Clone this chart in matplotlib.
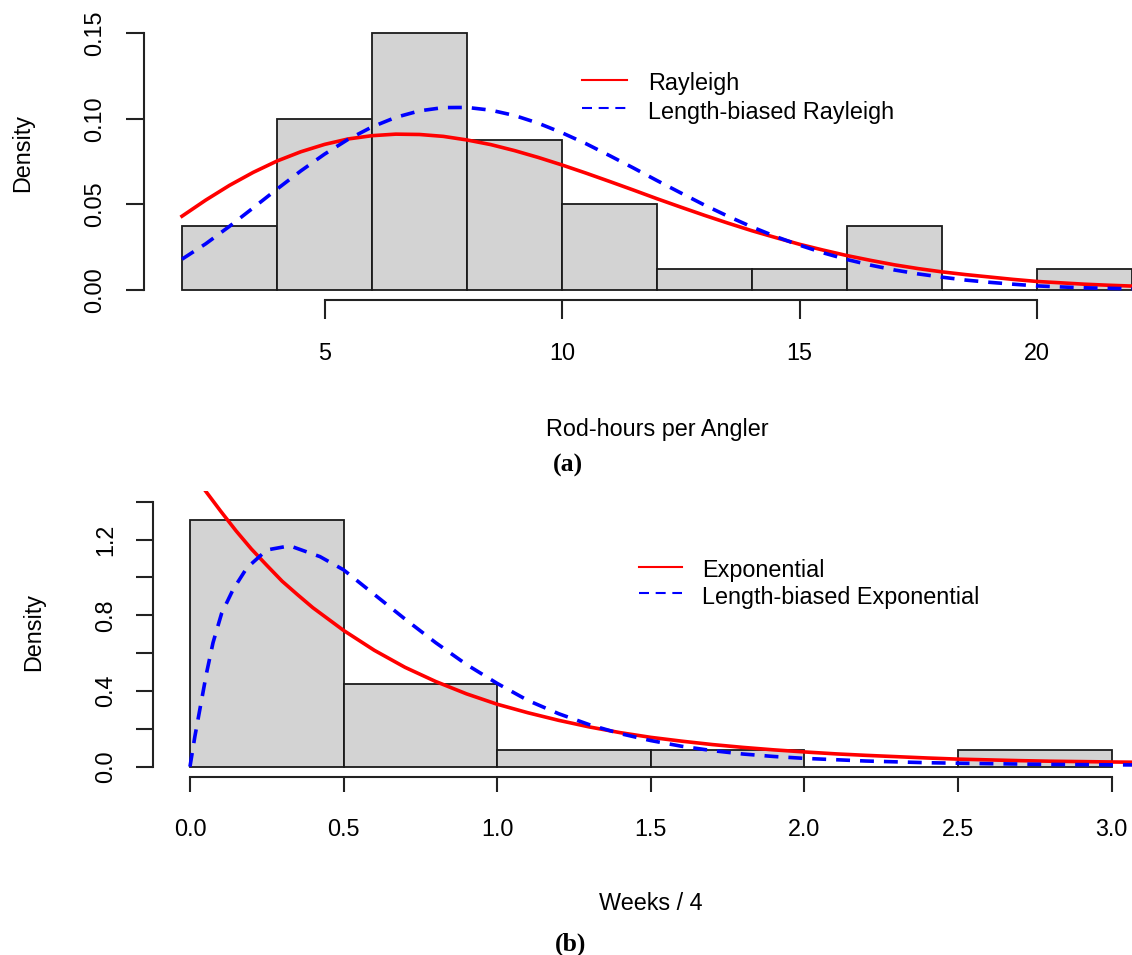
import matplotlib
matplotlib.use('Agg')
import matplotlib.pyplot as plt
from matplotlib.lines import Line2D
import numpy as np

W, H = 1132, 955
FS = 16.8
plt.rcParams['font.family'] = ['Liberation Sans', 'DejaVu Sans']

# ---- panel (a): rod-hours per angler ----
rod_edges = [2, 4, 6, 8, 10, 12, 14, 16, 18, 20, 22]
rod_density = [0.0375, 0.1, 0.15, 0.0875, 0.05, 0.0125, 0.0125, 0.0375, 0.0, 0.0125]
rod_x = [2, 2.5, 3, 3.5, 4, 4.5, 5, 5.5, 6, 6.5, 7, 7.5, 8, 8.5, 9, 9.5, 10, 10.5,
         11, 11.5, 12, 12.5, 13, 13.5, 14, 14.5, 15, 15.5, 16, 16.5, 17, 17.5, 18,
         18.5, 19, 19.5, 20, 20.5, 21, 21.5, 22]
rayleigh = [0.0431, 0.0525, 0.0611, 0.0687, 0.0753, 0.0807, 0.0850, 0.0882, 0.0901,
            0.0910, 0.0908, 0.0897, 0.0876, 0.0849, 0.0814, 0.0774, 0.0730, 0.0683,
            0.0634, 0.0584, 0.0533, 0.0484, 0.0436, 0.0390, 0.0346, 0.0306, 0.0267,
            0.0233, 0.0201, 0.0173, 0.0147, 0.0125, 0.0106, 0.0090, 0.0076, 0.0062,
            0.0050, 0.0042, 0.0034, 0.0028, 0.0023]
lb_rayleigh = [0.0180, 0.0270, 0.0372, 0.0480, 0.0589, 0.0695, 0.0793, 0.0880, 0.0952,
               0.1008, 0.1046, 0.1065, 0.1066, 0.1050, 0.1019, 0.0974, 0.0918, 0.0855,
               0.0785, 0.0713, 0.0639, 0.0567, 0.0496, 0.0430, 0.0368, 0.0312, 0.0262,
               0.0217, 0.0178, 0.0145, 0.0117, 0.0094, 0.0075, 0.0058, 0.0045, 0.0034,
               0.0024, 0.0018, 0.0013, 0.0010, 0.0007]
rod_yticks = [0.0, 0.05, 0.10, 0.15]
rod_ylabels = ['0.00', '0.05', '0.10', '0.15']
rod_xticks = [5, 10, 15, 20]

# ---- panel (b): weeks / 4 ----
week_edges = [0.0, 0.5, 1.0, 1.5, 2.0, 2.5, 3.0]
week_density = [1.3043, 0.4348, 0.0870, 0.0870, 0.0, 0.0870]
exp_x = [0.0, 0.05, 0.1, 0.15, 0.2, 0.25, 0.3, 0.35, 0.4, 0.5, 0.6, 0.7, 0.8, 0.9, 1.0,
         1.1, 1.2, 1.3, 1.4, 1.5, 1.6, 1.7, 1.8, 1.9, 2.0, 2.1, 2.2, 2.3, 2.4, 2.5,
         2.6, 2.7, 2.8, 2.9, 3.0, 3.1]
exponential = [1.58, 1.458, 1.35, 1.246, 1.15, 1.064, 0.98, 0.909, 0.84, 0.72, 0.615,
               0.525, 0.45, 0.385, 0.33, 0.285, 0.245, 0.21, 0.18, 0.155, 0.135, 0.117,
               0.102, 0.089, 0.078, 0.068, 0.060, 0.053, 0.046, 0.040, 0.036, 0.032,
               0.029, 0.027, 0.025, 0.023]
lbexp_x = [0.0, 0.016, 0.033, 0.054, 0.075, 0.103, 0.14, 0.185, 0.25, 0.325, 0.423, 0.5,
           0.6, 0.7, 0.8, 0.9, 1.0, 1.1, 1.2, 1.3, 1.4, 1.5, 1.6, 1.7, 1.8, 1.9, 2.0,
           2.2, 2.4, 2.6, 2.8, 3.0, 3.1]
lb_exponential = [0.0, 0.16, 0.31, 0.495, 0.655, 0.81, 0.935, 1.05, 1.145, 1.167, 1.11,
                  1.04, 0.91, 0.78, 0.655, 0.54, 0.44, 0.35, 0.28, 0.222, 0.175, 0.138,
                  0.108, 0.085, 0.067, 0.054, 0.044, 0.030, 0.021, 0.016, 0.012, 0.010, 0.009]
week_yticks = [0.0, 0.2, 0.4, 0.6, 0.8, 1.0, 1.2, 1.4]
week_ylabels = ['0.0', '', '0.4', '', '0.8', '', '1.2', '']
week_xticks = [0.0, 0.5, 1.0, 1.5, 2.0, 2.5, 3.0]
week_xlabels = ['0.0', '0.5', '1.0', '1.5', '2.0', '2.5', '3.0']


def fx(px):
    return px / W


def fy(py):
    return 1 - py / H


def style_axes(ax, ybounds, xbounds, xtl, xpad, ytl, ypad):
    for s in ['top', 'right']:
        ax.spines[s].set_visible(False)
    for s in ['left', 'bottom']:
        ax.spines[s].set_linewidth(1.5)
        ax.spines[s].set_color('#222222')
    ax.spines['left'].set_bounds(*ybounds)
    ax.spines['bottom'].set_bounds(*xbounds)
    ax.tick_params(axis='x', length=xtl, width=1.5, pad=xpad, labelsize=FS, color='#222222')
    ax.tick_params(axis='y', length=ytl, width=1.5, pad=ypad, labelsize=FS, color='#222222')


def draw_legend(x0, x1, xt, line_ys, text_ys, labels):
    styles = [('red', None), ('blue', (4.8, 3.2))]
    for ly, ty, lab, (c, d) in zip(line_ys, text_ys, labels, styles):
        ln = Line2D([fx(x0), fx(x1)], [fy(ly), fy(ly)], transform=fig.transFigure,
                    color=c, lw=1.5)
        if d:
            ln.set_dashes(d)
        fig.add_artist(ln)
        fig.text(fx(xt), fy(ty), lab, ha='left', va='baseline', fontsize=FS)


fig = plt.figure(figsize=(W / 100, H / 100), dpi=100)

# panel (a): axes span x 1.2..22.8 -> px 144..1170, y -0.006..0.156 -> px 300.3..22.8
ax1 = fig.add_axes([fx(144), fy(300.3), fx(1170 - 144), (300.3 - 22.8) / H])
ax1.bar(rod_edges[:-1], rod_density, width=np.diff(rod_edges), align='edge',
        color='#d3d3d3', edgecolor='#1a1a1a', linewidth=1.3)
ax1.plot(rod_x, rayleigh, color='red', lw=2.6)
ax1.plot(rod_x, lb_rayleigh, color='blue', lw=2.6, dashes=(3.85, 2.77))
ax1.set_xlim(1.2, 22.8)
ax1.set_ylim(-0.006, 0.156)
ax1.set_xticks(rod_xticks, [str(t) for t in rod_xticks])
ax1.set_yticks(rod_yticks, rod_ylabels, rotation=90, va='center')
style_axes(ax1, (0, 0.15), (5, 20), 13.7, 16.3, 12.7, 14.6)

# panel (b): axes span x -0.12..3.12 -> px 153.1..1148.5, y -0.056..1.456 -> px 777.3..491.1
ax2 = fig.add_axes([fx(153.1), fy(777.3), fx(1148.5 - 153.1), (777.3 - 491.1) / H])
ax2.bar(week_edges[:-1], week_density, width=np.diff(week_edges), align='edge',
        color='#d3d3d3', edgecolor='#1a1a1a', linewidth=1.3)
ax2.plot(exp_x, exponential, color='red', lw=2.6)
ax2.plot(lbexp_x, lb_exponential, color='blue', lw=2.6, dashes=(3.85, 2.77))
ax2.set_xlim(-0.12, 3.12)
ax2.set_ylim(-0.056, 1.456)
ax2.set_xticks(week_xticks, week_xlabels)
ax2.set_yticks(week_yticks, week_ylabels, rotation=90, va='center')
style_axes(ax2, (0, 1.4), (0, 3.0), 10.8, 18.4, 12.0, 13.9)

# axis titles
fig.text(fx(657), fy(436), 'Rod-hours per Angler', ha='center', va='baseline', fontsize=FS)
fig.text(fx(651), fy(910), 'Weeks / 4', ha='center', va='baseline', fontsize=FS)
fig.text(fx(29), fy(153), 'Density', rotation=90, rotation_mode='anchor',
         ha='center', va='baseline', fontsize=FS)
fig.text(fx(40), fy(632), 'Density', rotation=90, rotation_mode='anchor',
         ha='center', va='baseline', fontsize=FS)

# legends
draw_legend(582, 627, 648, [80, 108.5], [90, 118.5], ['Rayleigh', 'Length-biased Rayleigh'])
draw_legend(639, 682, 702, [566.7, 593.3], [576.7, 604.3],
            ['Exponential', 'Length-biased Exponential'])

# panel letters
fig.text(fx(568), fy(472), '(a)', ha='center', va='baseline', fontsize=18.5,
         fontweight='bold', family=['Liberation Serif', 'DejaVu Serif'])
fig.text(fx(571), fy(951), '(b)', ha='center', va='baseline', fontsize=18.5,
         fontweight='bold', family=['Liberation Serif', 'DejaVu Serif'])

fig.savefig('out.png', dpi=100)
